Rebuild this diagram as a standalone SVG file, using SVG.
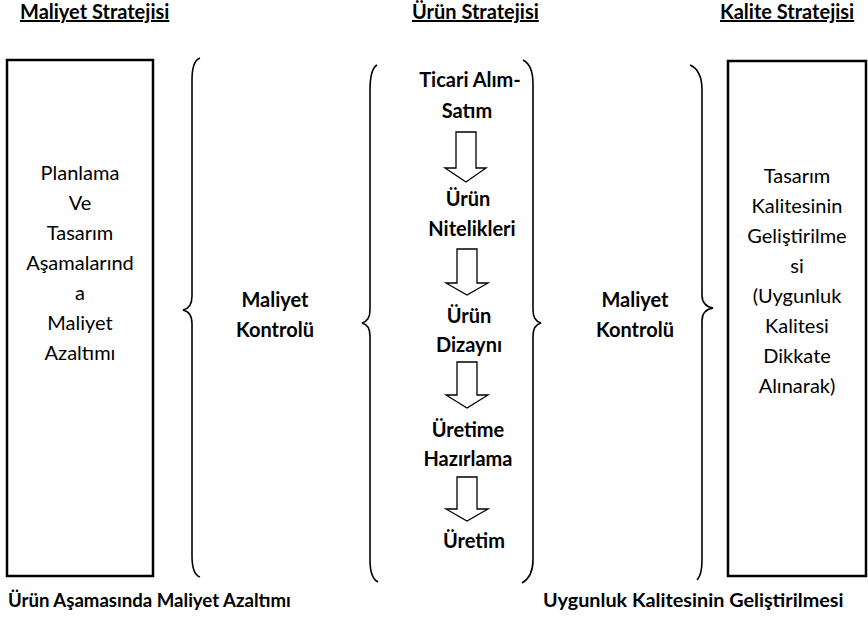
<svg xmlns="http://www.w3.org/2000/svg" width="868" height="619" viewBox="0 0 868 619">
<style>
text{font-family:Lato,"Open Sans","Liberation Sans",sans-serif;fill:#000;}
.h{font-size:20px;font-weight:bold;text-decoration:underline;}
.b{font-size:20px;font-weight:bold;text-anchor:middle;}
.r{font-size:20px;text-anchor:middle;}
.f{font-size:19.8px;font-weight:bold;}
.box{fill:#fff;stroke:#000;stroke-width:2.5;}
.brace{fill:none;stroke:#000;stroke-width:1.6;}
.arr{fill:#fff;stroke:#000;stroke-width:1.3;}
</style>
<rect width="868" height="619" fill="#fff"/>
<g id="headings">
<text class="h" x="20" y="19">Maliyet Stratejisi</text>
<text class="h" x="412" y="19">Ürün Stratejisi</text>
<text class="h" x="720" y="19">Kalite Stratejisi</text>
</g>
<g id="left-box">
<rect class="box" x="7" y="60" width="146" height="516"/>
<text class="r" x="80" y="180">Planlama</text>
<text class="r" x="80" y="210">Ve</text>
<text class="r" x="80" y="240">Tasarım</text>
<text class="r" x="80" y="270">Aşamalarınd</text>
<text class="r" x="80" y="300">a</text>
<text class="r" x="80" y="330">Maliyet</text>
<text class="r" x="80" y="360">Azaltımı</text>
</g>
<g id="right-box">
<rect class="box" x="728" y="61" width="138" height="515"/>
<text class="r" x="797" y="183">Tasarım</text>
<text class="r" x="797" y="213">Kalitesinin</text>
<text class="r" x="797" y="243">Geliştirilme</text>
<text class="r" x="797" y="273">si</text>
<text class="r" x="797" y="303">(Uygunluk</text>
<text class="r" x="797" y="333">Kalitesi</text>
<text class="r" x="797" y="363">Dikkate</text>
<text class="r" x="797" y="393">Alınarak)</text>
</g>
<g id="braces">
<path class="brace" d="M200,58 C194,60 192,68 192,80 L192,296 C192,305 188,309 183,310 C188,311 192,315 192,324 L192,556 C192,568 194,575 200,577"/>
<path class="brace" d="M377,65 C372,68 370,76 370,90 L370,310 C370,318 366,322 362,323 C366,324 370,328 370,336 L370,560 C370,572 372,579 378,582"/>
<path class="brace" d="M523,60 C529,63 533,70 533,84 L533,310 C533,318 537,322 541,323 C537,324 533,328 533,336 L533,560 C533,572 529,579 522,583"/>
<path class="brace" d="M690,65 C697,68 702,76 702,90 L702,295 C702,303 707,307 713,308 C707,309 702,313 702,321 L702,560 C702,571 700,577 697,580"/>
</g>
<g id="left-label">
<text class="b" x="275" y="307">Maliyet</text>
<text class="b" x="275" y="337">Kontrolü</text>
</g>
<g id="right-label">
<text class="b" x="635" y="307">Maliyet</text>
<text class="b" x="635" y="337">Kontrolü</text>
</g>
<g id="step1"><text class="b" x="470" y="87">Ticari Alım-</text><text class="b" x="467" y="118">Satım</text></g>
<g id="step2"><text class="b" x="468" y="206">Ürün</text><text class="b" x="472" y="236">Nitelikleri</text></g>
<g id="step3"><text class="b" x="469" y="323">Ürün</text><text class="b" x="469" y="352">Dizaynı</text></g>
<g id="step4"><text class="b" x="468" y="437">Üretime</text><text class="b" x="468" y="466">Hazırlama</text></g>
<g id="step5"><text class="b" x="474" y="548">Üretim</text></g>
<g id="connectors">
<path class="arr" d="M456,132 H476 V168 H486 L466,182 L445,168 H456 Z"/>
<path class="arr" d="M457,249 H477 V283 H488 L467,295 L446,283 H457 Z"/>
<path class="arr" d="M457,362 H477 V395 H488 L467,408 L446,395 H457 Z"/>
<path class="arr" d="M457,477 H477 V509 H488 L467,521 L446,509 H457 Z"/>
</g>
<g id="footer">
<text class="f" x="8" y="607" style="font-size:18.6px">Ürün Aşamasında Maliyet Azaltımı</text>
<text class="f" x="543" y="607">Uygunluk Kalitesinin Geliştirilmesi</text>
</g>
</svg>
